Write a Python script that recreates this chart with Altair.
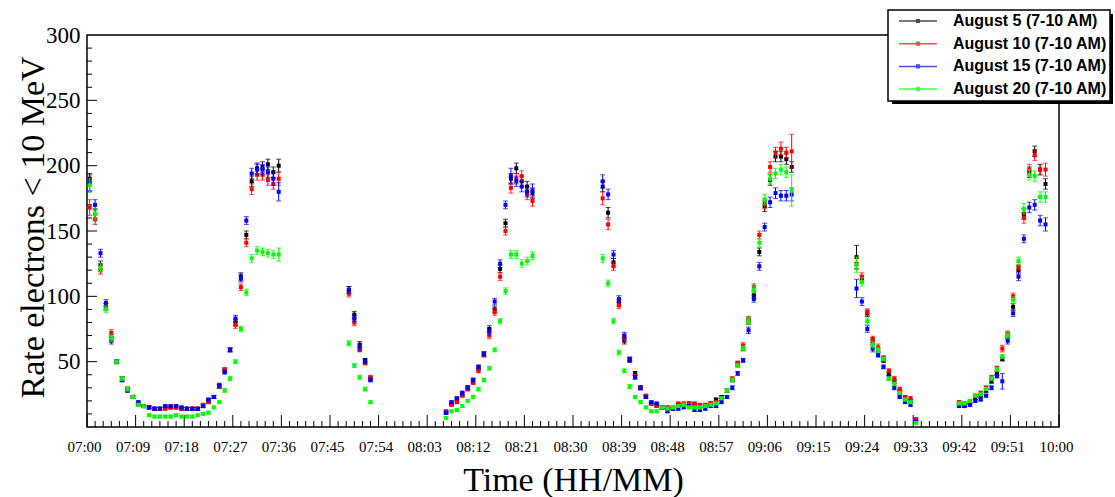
import altair as alt
import pandas as pd

SERIES = ["August 5 (7-10 AM)", "August 10 (7-10 AM)", "August 15 (7-10 AM)", "August 20 (7-10 AM)"]
COLORS = ["#000000", "#ff0000", "#0000ff", "#00ff00"]

# bin centres, minutes after 07:00, of each run of measurements
CLUSTER_START = [0.5, 48.5, 66.5, 95.5, 142.5, 161.5]
CLUSTER_LEN = [36, 5, 17, 36, 12, 17]

X_TICK_MIN = [0, 9, 18, 27, 36, 45, 54, 63, 72, 81, 90, 99, 108, 117, 126, 135, 144, 153, 162, 171, 180]
X_TICK_LABELS = ["07:00", "07:09", "07:18", "07:27", "07:36", "07:45", "07:54", "08:03", "08:12", "08:21",
                 "08:30", "08:39", "08:48", "08:57", "09:06", "09:15", "09:24", "09:33", "09:42", "09:51", "10:00"]
Y_TICKS = [50, 100, 150, 200, 250, 300]

aug5 = ([190, 163, 124, 92, 68, 50, 37, 29, 23, 18, 16, 15, 14, 14, 15, 15, 15, 14, 14, 14, 14, 16, 20, 23, 31, 43, 59, 80, 115, 147, 188, 198, 199, 201, 195, 200]
        + [105, 86, 63, 51, 37]
        + [11, 18, 21, 25, 30, 35, 45, 56, 75, 90, 121, 156, 190, 198, 188, 184, 179]
        + [184, 164, 126, 95, 66, 51, 41, 30, 23, 18, 17, 15, 14, 14, 17, 17, 18, 17, 16, 16, 18, 21, 23, 28, 36, 48, 61, 81, 101, 134, 169, 189, 207, 207, 205, 199]
        + [130, 113, 87, 66, 59, 51, 41, 35, 27, 22, 20, 5]
        + [18, 17, 18, 22, 24, 28, 35, 41, 52, 70, 92, 120, 163, 195, 211, 197, 186])
aug5_err = ([4, 4, 3, 2.5, 2.5, 1.5, 1.5, 1.5, 1, 1, 1, 1, 1, 1, 1, 1, 1, 1, 1, 1, 1, 1, 1, 1, 1.5, 1.5, 1.5, 2.5, 3, 3, 4, 4, 4, 4, 4, 5]
            + [2.5, 2.5, 2.5, 1.5, 1.5]
            + [1, 1, 1, 1.5, 1.5, 1.5, 1.5, 1.5, 2.5, 2.5, 3, 3, 4, 4, 4, 4, 4]
            + [4, 4, 3, 2.5, 2.5, 1.5, 1.5, 1.5, 1, 1, 1, 1, 1, 1, 1, 1, 1, 1, 1, 1, 1, 1, 1, 1.5, 1.5, 1.5, 2.5, 2.5, 2.5, 3, 4, 4, 4, 4, 4, 4]
            + [9, 3, 2.5, 2.5, 1.5, 1.5, 1.5, 1.5, 1.5, 1, 1, 1]
            + [1, 1, 1, 1, 1, 1.5, 1.5, 1.5, 1.5, 2.5, 2.5, 3, 4, 4, 4, 4, 4])

aug10 = ([168, 159, 120, 92, 72, 50, 37, 29, 23, 17, 16, 15, 14, 14, 14, 15, 15, 14, 14, 14, 14, 17, 19, 23, 31, 44, 59, 78, 107, 141, 182, 193, 193, 189, 186, 190]
         + [102, 80, 59, 49, 38]
         + [12, 17, 19, 24, 29, 34, 43, 55, 70, 88, 115, 150, 183, 190, 192, 178, 173]
         + [175, 155, 123, 93, 68, 52, 39, 30, 24, 18, 16, 15, 15, 15, 18, 18, 18, 18, 17, 17, 18, 19, 22, 28, 37, 49, 62, 82, 107, 147, 171, 199, 210, 213, 210, 211]
         + [125, 115, 88, 67, 61, 53, 43, 37, 29, 23, 22, 6]
         + [19, 18, 19, 24, 26, 30, 38, 45, 60, 71, 100, 123, 160, 197, 208, 197, 197])
aug10_err = ([6, 4, 3, 2.5, 2.5, 1.5, 1.5, 1.5, 1, 1, 1, 1, 1, 1, 1, 1, 1, 1, 1, 1, 1, 1, 1, 1, 1.5, 1.5, 1.5, 2.5, 2.5, 3, 4, 4, 4, 4, 4, 5]
             + [2.5, 2.5, 1.5, 1.5, 1.5]
             + [1, 1, 1, 1, 1.5, 1.5, 1.5, 1.5, 2.5, 2.5, 3, 3, 4, 4, 4, 4, 4]
             + [5, 4, 3, 2.5, 2.5, 1.5, 1.5, 1.5, 1, 1, 1, 1, 1, 1, 1, 1, 1, 1, 1, 1, 1, 1, 1, 1.5, 1.5, 1.5, 2.5, 2.5, 2.5, 3, 4, 4, 4, 5, 4, 13]
             + [4, 3, 2.5, 2.5, 2.5, 1.5, 1.5, 1.5, 1.5, 1, 1, 1]
             + [1, 1, 1, 1, 1.5, 1.5, 1.5, 1.5, 2.5, 2.5, 2.5, 3, 4, 4, 4, 4, 5])

aug15 = ([187, 170, 133, 95, 66, 50, 36, 28, 23, 19, 16, 15, 14, 14, 16, 16, 16, 15, 14, 14, 14, 16, 21, 23, 32, 42, 59, 83, 114, 158, 194, 197, 197, 195, 190, 180]
         + [105, 83, 61, 50, 36]
         + [11, 19, 22, 26, 30, 36, 46, 56, 73, 96, 125, 170, 192, 188, 184, 180, 181]
         + [188, 178, 132, 98, 70, 52, 38, 30, 23, 19, 18, 15, 12, 14, 14, 15, 16, 13, 13, 14, 16, 16, 19, 23, 30, 41, 51, 74, 98, 123, 153, 172, 179, 177, 177, 178]
         + [106, 96, 75, 60, 55, 46, 38, 30, 23, 19, 17, 4]
         + [16, 16, 17, 20, 21, 24, 30, 39, 35, 66, 87, 115, 144, 168, 170, 158, 155])
aug15_err = ([6, 4, 3, 2.5, 2.5, 1.5, 1.5, 1.5, 1, 1, 1, 1, 1, 1, 1, 1, 1, 1, 1, 1, 1, 1, 1, 1, 1.5, 1.5, 1.5, 2.5, 3, 3, 4, 4, 4, 4, 5, 7]
             + [2.5, 2.5, 2.5, 1.5, 1.5]
             + [1, 1, 1, 1.5, 1.5, 1.5, 1.5, 1.5, 2.5, 2.5, 3, 3, 6, 4, 4, 4, 5]
             + [5, 4, 3, 2.5, 2.5, 1.5, 1.5, 1.5, 1, 1, 1, 1, 1, 1, 1, 1, 1, 1, 1, 1, 1, 1, 1, 1, 1.5, 1.5, 1.5, 2.5, 2.5, 3, 3, 4, 4, 4, 4, 5]
             + [7, 3, 2.5, 2.5, 1.5, 1.5, 1.5, 1.5, 1, 1, 1, 1]
             + [1, 1, 1, 1, 1, 1, 1.5, 1.5, 6, 2.5, 2.5, 3, 3, 4, 4, 4, 5])

aug20 = ([185, 163, 122, 90, 68, 50, 37, 29, 23, 17, 16, 9, 8, 8, 8, 8, 9, 8, 8, 8, 9, 10, 11, 15, 19, 28, 37, 50, 75, 103, 129, 135, 134, 133, 132, 132]
         + [64, 47, 38, 29, 19]
         + [7, 12, 13, 16, 20, 23, 29, 36, 45, 59, 81, 104, 132, 132, 125, 127, 131]
         + [129, 110, 81, 57, 43, 31, 23, 19, 15, 12, 12, 15, 14, 15, 16, 17, 15, 15, 15, 16, 17, 18, 22, 28, 36, 47, 60, 81, 105, 141, 174, 190, 194, 197, 195, 181]
         + [124, 111, 81, 63, 59, 52, 37, 33, 26, 21, 19, 3]
         + [18, 18, 20, 24, 25, 29, 37, 44, 54, 70, 97, 127, 167, 193, 192, 176, 176])
aug20_err = ([5, 4, 3, 2.5, 2.5, 1.5, 1.5, 1.5, 1, 1, 1, 1, 1, 1, 1, 1, 1, 1, 1, 1, 1, 1, 1, 1, 1, 1.5, 1.5, 1.5, 2, 2.5, 3, 3, 3, 3, 3, 5]
             + [2, 1.5, 1.5, 1.5, 1]
             + [1, 1, 1, 1, 1, 1, 1.5, 1.5, 1.5, 1.5, 2, 2.5, 3, 3, 3, 3, 3]
             + [3, 2.5, 2, 2, 1.5, 1.5, 1, 1, 1, 1, 1, 1, 1, 1, 1, 1, 1, 1, 1, 1, 1, 1, 1, 1.5, 1.5, 1.5, 2, 2.5, 2.5, 3, 4, 4, 4, 4, 4, 12]
             + [6, 3, 2.5, 2.5, 2, 1.5, 1.5, 1.5, 1, 1, 1, 1]
             + [1, 1, 1, 1, 1, 1, 1.5, 1.5, 1.5, 2, 2.5, 3, 4, 4, 4, 4, 4])

times = [s + i for s, n in zip(CLUSTER_START, CLUSTER_LEN) for i in range(n)]
VALUES = [aug5, aug10, aug15, aug20]
ERRORS = [aug5_err, aug10_err, aug15_err, aug20_err]
for v, e in zip(VALUES, ERRORS):
    assert len(v) == len(times) and len(e) == len(times)

W, H = 972, 392
SERIF = "Liberation Serif"

xscale = alt.Scale(domain=[0, 180], nice=False, zero=False)
yscale = alt.Scale(domain=[0, 300], nice=False, zero=False)

label_expr = "[" + ",".join("'%s'" % s for s in X_TICK_LABELS) + "][round(datum.value/9)]"
xaxis = alt.Axis(values=X_TICK_MIN, labelExpr=label_expr, labelFont=SERIF, labelFontSize=15,
                 labelColor="black", labelPadding=24, labelBaseline="alphabetic", labelFlush=False,
                 labelOverlap=False, labelOffset=-3, ticks=False, tickSize=0, domain=False, grid=False,
                 title="Time (HH/MM)", titleFont=SERIF, titleFontSize=34, titleFontWeight="normal",
                 titleColor="black", titleX=W / 2, titleY=63, titleBaseline="alphabetic", titleAlign="center")
yaxis = alt.Axis(values=Y_TICKS, labelFont=SERIF, labelFontSize=23, labelColor="black", labelPadding=7,
                 ticks=False, tickSize=0, domain=False, grid=False,
                 title="Rate electrons < 10 MeV", titleFont=SERIF, titleFontSize=34, titleFontWeight="normal",
                 titleColor="black", titleX=-44, titleY=192, titleAngle=270, titleBaseline="alphabetic",
                 titleAlign="center")

legend = alt.Legend(orient="none", legendX=801, legendY=-25, title=None,
                    symbolType="M-1,0H1M-0.07,-0.07H0.07V0.07H-0.07Z", symbolSize=1444, symbolStrokeWidth=1.5,
                    symbolOffset=7, labelOffset=15, clipHeight=16, rowPadding=6.7, padding=3,
                    labelFont="Liberation Sans", labelFontSize=16, labelFontWeight="bold", labelColor="black",
                    labelLimit=0, fillColor="white", strokeColor="black")
color = alt.Color("series:N", scale=alt.Scale(domain=SERIES, range=COLORS), legend=legend, title=None)

layers = []

# legend shadow
layers.append(alt.Chart(pd.DataFrame({"k": [0]})).mark_rect(color="black").encode(
    x=alt.value(805), x2=alt.value(1026), y=alt.value(-21), y2=alt.value(69)))

# inward ticks (ROOT style)
x_major = pd.DataFrame({"m": X_TICK_MIN})
x_minor = pd.DataFrame({"m": [i * 1.5 for i in range(121) if i % 6 != 0]})
y_major = pd.DataFrame({"v": [50, 100, 150, 200, 250]})
y_minor = pd.DataFrame({"v": [v for v in range(10, 300, 10) if v % 50 != 0]})
X = lambda f: alt.X(f, type="quantitative", scale=xscale, axis=xaxis)
Y = lambda f: alt.Y(f, type="quantitative", scale=yscale, axis=yaxis)
layers.append(alt.Chart(x_major).mark_rule(color="black", strokeWidth=1).encode(
    x=X("m"), y=alt.value(H), y2=alt.value(H - 12)))
layers.append(alt.Chart(x_minor).mark_rule(color="black", strokeWidth=1).encode(
    x=X("m"), y=alt.value(H), y2=alt.value(H - 6)))
layers.append(alt.Chart(y_major).mark_rule(color="black", strokeWidth=1).encode(
    y=Y("v"), x=alt.value(0), x2=alt.value(10)))
layers.append(alt.Chart(y_minor).mark_rule(color="black", strokeWidth=1).encode(
    y=Y("v"), x=alt.value(0), x2=alt.value(5)))

for name, vals, errs in zip(SERIES, VALUES, ERRORS):
    df = pd.DataFrame({"t": times, "rate": vals, "err": errs})
    df["lo"] = df["rate"] - df["err"]
    df["hi"] = df["rate"] + df["err"]
    df["series"] = name
    base = alt.Chart(df)
    layers.append(base.mark_rule(strokeWidth=1).encode(x=X("t"), y=Y("lo"), y2="hi:Q", color=color))
    layers.append(base.mark_tick(orient="horizontal", size=5, thickness=1).encode(x=X("t"), y=Y("lo"), color=color))
    layers.append(base.mark_tick(orient="horizontal", size=5, thickness=1).encode(x=X("t"), y=Y("hi"), color=color))
    layers.append(base.mark_square(size=16, opacity=1, filled=True).encode(x=X("t"), y=Y("rate"), color=color))

chart = alt.layer(*layers).properties(
    width=W, height=H,
    autosize=alt.AutoSizeParams(type="none"),
    padding={"left": 87, "top": 35, "right": 56, "bottom": 70},
    background="white",
).configure_view(stroke="black", strokeWidth=1.5).configure_legend(strokeWidth=1.5)

chart.save("out.html", embed_options={"renderer": "svg", "actions": False})
